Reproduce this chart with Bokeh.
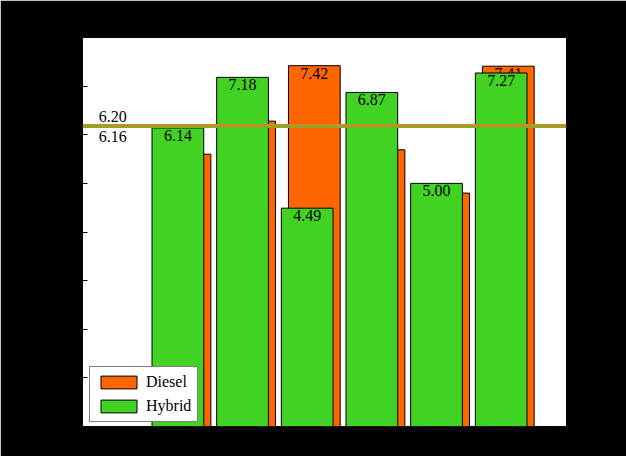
from bokeh.plotting import figure
from bokeh.models import ColumnDataSource, Range1d, Span, FixedTicker
from bokeh.core.properties import value
from bokeh.embed import file_html
from bokeh.resources import INLINE

# ---- data ----
groups = [1, 2, 3, 4, 5, 6]
diesel = [5.60, 6.28, 7.42, 5.69, 4.80, 7.41]
hybrid = [6.14, 7.18, 4.49, 6.87, 5.00, 7.27]
y_ticks = [0, 1, 2, 3, 4, 5, 6, 7, 8]
series_names = ["Diesel", "Hybrid"]

diesel_avg = sum(diesel) / len(diesel)
hybrid_avg = sum(hybrid) / len(hybrid)

ORANGE = "#ff6600"
GREEN = "#42d224"
FONT = "Liberation Serif"
shift = 0.055
bar_w = 0.8

src_d = ColumnDataSource(dict(x=[g + shift for g in groups], top=diesel,
                              lbl=[f"{v:.2f}" for v in diesel]))
src_h = ColumnDataSource(dict(x=[g - shift for g in groups], top=hybrid,
                              lbl=[f"{v:.2f}" for v in hybrid]))

p = figure(width=626, height=456, output_backend="svg", toolbar_location=None,
           x_range=Range1d(-0.53, 6.955), y_range=Range1d(0, 8),
           min_border_left=82, min_border_right=60, min_border_top=37,
           min_border_bottom=30)
p.border_fill_color = "black"
p.background_fill_color = "white"
p.outline_line_color = "black"
p.grid.visible = False
p.xaxis.visible = False

p.yaxis.ticker = FixedTicker(ticks=y_ticks)
p.yaxis.major_tick_in = 5
p.yaxis.major_tick_out = 0
p.yaxis.minor_tick_line_color = None
p.yaxis.major_tick_line_color = "black"
p.yaxis.axis_line_color = "black"
p.yaxis.major_label_text_color = "black"
p.yaxis.major_label_text_font = FONT

# Diesel bars + labels (behind)
p.vbar(x="x", top="top", width=bar_w, bottom=0, source=src_d,
       fill_color=ORANGE, line_color="black", line_width=1,
       legend_label=series_names[0])
p.text(x="x", y="top", text="lbl", source=src_d, text_align="center",
       text_baseline="top", y_offset=2, text_font=value(FONT),
       text_font_size="16px", text_color="black")

# Hybrid bars + labels (front)
p.vbar(x="x", top="top", width=bar_w, bottom=0, source=src_h,
       fill_color=GREEN, line_color="black", line_width=1,
       legend_label=series_names[1])
p.text(x="x", y="top", text="lbl", source=src_h, text_align="center",
       text_baseline="top", y_offset=2, text_font=value(FONT),
       text_font_size="16px", text_color="black")

# average lines
p.add_layout(Span(location=diesel_avg, dimension="width", line_color="#c8901a",
                  line_width=2))
p.add_layout(Span(location=hybrid_avg, dimension="width", line_color="#8aa82a",
                  line_width=2))
p.text(x=[-0.28], y=[diesel_avg], text=[f"{diesel_avg:.2f}"], text_align="left",
       text_baseline="bottom", y_offset=-3, text_font=value(FONT),
       text_font_size="16px", text_color="black")
p.text(x=[-0.28], y=[hybrid_avg], text=[f"{hybrid_avg:.2f}"], text_align="left",
       text_baseline="top", y_offset=4, text_font=value(FONT),
       text_font_size="16px", text_color="black")

lg = p.legend[0]
lg.location = (7, 4)
lg.border_line_color = "black"
lg.border_line_width = 1
lg.background_fill_color = "white"
lg.background_fill_alpha = 1
lg.label_text_font = FONT
lg.label_text_font_size = "16px"
lg.label_text_color = "black"
lg.glyph_width = 45
lg.glyph_height = 16
lg.label_height = 16
lg.label_standoff = 5
lg.spacing = 6
lg.padding = 6
lg.margin = 0

open("out.html", "w").write(file_html(p, INLINE))
